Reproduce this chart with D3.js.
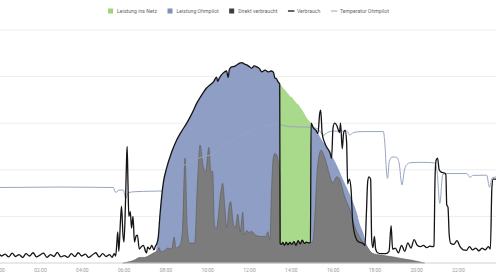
<!DOCTYPE html>
<html><head><meta charset="utf-8">
<script src="https://cdn.jsdelivr.net/npm/d3@7/dist/d3.min.js"></script>
<style>html,body{margin:0;padding:0;background:#fff;overflow:hidden}svg{display:block;font-family:Roboto,"Open Sans",sans-serif}</style>
</head><body>
<svg id="c" width="496" height="279"></svg>
<script>
// ---------- data ----------
const tickHours = [0,2,4,6,8,10,12,14,16,18,20,22];
const legendLabels = ["Leistung ins Netz","Leistung Ohmpilot","Direkt verbraucht","Verbrauch","Temperatur Ohmpilot"];

// Leistung Ohmpilot (blue area top, kW); null = gap
const ohmpilotZeit = [7.55,7.58,7.66,7.74,7.82,7.90,8.06,8.30,8.54,8.75,9.02,9.26,9.50,9.74,9.98,10.13,10.29,10.45,10.50,10.58,10.77,10.93,11.00,11.06,11.17,11.30,11.41,11.55,11.65,11.78,11.89,12.00,12.13,12.24,12.37,12.50,12.61,12.77,12.92,13.05,13.16,13.24,13.32,13.40,13.48,
  13.50,
  14.96,15.08,15.24,15.40,15.64,15.88,16.20,16.51,16.83,17.15,17.31,17.47,17.63,17.74,17.89,17.95];
const ohmpilotWert = [0.20,0.40,0.56,1.03,1.42,1.72,2.04,2.38,2.64,2.81,3.00,3.20,3.43,3.61,3.76,3.82,3.88,3.99,3.90,3.97,4.08,4.12,3.98,4.15,4.21,4.22,4.25,4.29,4.30,4.27,4.25,4.22,4.18,4.23,4.21,4.17,4.10,4.14,4.10,4.12,4.10,3.97,3.95,3.88,3.84,
  null,
  3.00,2.90,2.83,2.70,2.53,2.36,2.10,1.78,1.46,1.09,0.82,0.64,0.39,0.28,0.19,0.00];

// Leistung ins Netz (green area top, kW)
const netzZeit = [13.47,13.56,13.64,13.72,13.80,13.88,13.96,14.04,14.12,14.20,14.28,14.36,14.44,14.52,14.60,14.68,14.76,14.84,14.92,14.97];
const netzWert = [3.84,3.80,3.75,3.72,3.67,3.63,3.58,3.56,3.52,3.47,3.43,3.40,3.35,3.30,3.24,3.18,3.11,3.07,3.03,3.00];

// Direkt verbraucht (grey area, kW)
const direktZeit = [5.97,6.20,6.50,6.78,7.00,7.30,7.55,7.62,7.70,7.78,8.00,8.10,8.30,8.42,8.50,8.70,8.82,8.94,9.05,9.15,9.40,9.53,9.66,9.80,9.92,10.08,10.18,10.26,10.35,10.45,10.63,10.74,10.85,10.93,11.06,11.12,11.24,11.35,11.46,11.58,11.64,11.70,11.78,11.90,12.00,12.12,12.30,12.55,12.80,12.90,13.00,13.08,13.16,13.24,13.35,13.42,13.47,
  13.49,13.55,13.62,13.70,13.78,13.86,13.95,14.05,14.15,14.25,14.35,14.45,14.55,14.65,14.75,14.85,14.94,
  15.05,15.15,15.25,15.35,15.45,15.55,15.70,15.85,16.00,16.20,16.35,16.58,16.83,17.07,17.31,17.63,17.90,18.30,18.90,19.50,19.80,20.10,20.40];
const direktWert = [0.00,0.02,0.06,0.12,0.12,0.18,0.24,0.25,0.33,0.24,0.28,0.32,0.30,0.56,0.32,0.39,0.71,2.25,0.71,0.43,0.43,1.70,2.53,2.10,1.95,2.48,1.95,1.97,0.80,0.75,1.45,1.71,1.16,0.75,1.25,1.32,0.88,0.75,1.05,0.67,0.88,1.09,0.60,0.70,0.65,0.68,0.60,0.57,0.57,0.67,0.50,1.60,2.25,2.35,2.30,2.10,1.90,
  0.42,0.40,0.44,0.38,0.45,0.39,0.44,0.40,0.46,0.38,0.48,0.41,0.49,0.42,0.45,0.43,0.44,
  0.45,1.00,1.90,2.30,2.42,2.35,2.15,1.90,1.72,1.85,1.78,1.42,1.14,0.77,0.54,0.36,0.21,0.17,0.13,0.08,0.06,0.03,0.00];

// Verbrauch (black line, kW)
const verbrauchZeit = [0.00,0.17,0.33,0.50,0.67,0.83,1.00,1.17,1.33,1.50,1.67,1.83,2.00,2.17,2.33,2.50,2.67,2.83,3.00,3.17,3.33,3.50,3.67,3.83,4.00,4.17,4.33,4.50,4.67,4.83,5.00,5.17,5.33,5.45,
  5.55,5.62,5.68,5.72,5.77,5.85,5.90,5.97,6.02,6.09,6.14,6.17,6.21,6.25,6.32,6.38,6.45,6.52,6.60,6.66,6.75,6.85,6.95,7.05,7.10,7.15,7.25,7.35,7.45,7.53,
  7.58,7.66,7.74,7.82,7.90,8.06,8.30,8.54,8.75,9.02,9.26,9.50,9.74,9.98,10.13,10.29,10.45,10.50,10.58,10.77,10.93,11.00,11.06,11.17,11.30,11.41,11.55,11.65,11.78,11.89,12.00,12.13,12.24,12.37,12.50,12.61,12.77,12.92,13.05,13.16,13.24,13.32,13.40,13.47,
  13.49,13.55,13.62,13.70,13.78,13.86,13.95,14.05,14.15,14.25,14.35,14.45,14.55,14.65,14.75,14.85,14.94,
  14.97,15.08,15.20,15.30,15.38,15.43,15.50,15.62,15.70,15.88,15.95,16.02,16.10,16.20,16.28,16.33,16.38,16.46,16.53,16.60,16.67,16.72,16.80,16.88,16.96,17.10,17.25,17.45,17.55,17.62,17.68,17.74,17.82,17.87,17.93,18.00,18.06,18.15,18.35,18.55,18.70,18.80,18.87,19.00,19.15,19.30,19.45,19.60,19.75,19.90,20.05,20.20,20.35,20.50,20.65,20.78,20.85,
  20.90,20.95,21.02,21.10,21.20,21.35,21.42,21.46,21.52,21.58,21.65,21.80,21.95,22.10,22.25,22.40,22.55,22.70,22.85,23.00,23.15,23.30,23.45,23.55,23.62,23.68,23.80,24.00];
const verbrauchWert = [0.22,0.15,0.19,0.13,0.21,0.14,0.18,0.12,0.20,0.15,0.22,0.13,0.17,0.21,0.12,0.18,0.14,0.23,0.13,0.16,0.12,0.20,0.14,0.22,0.15,0.19,0.12,0.17,0.22,0.13,0.20,0.14,0.18,0.12,
  0.20,0.15,0.45,0.67,0.25,0.90,1.22,0.60,0.45,1.30,2.20,2.50,1.70,1.00,1.10,0.75,1.00,0.45,0.58,0.60,0.30,0.35,0.38,0.25,0.22,0.34,0.30,0.38,0.28,0.37,
  0.40,0.56,1.03,1.42,1.72,2.04,2.38,2.64,2.81,3.00,3.20,3.43,3.61,3.76,3.82,3.88,3.99,3.90,3.97,4.08,4.12,3.98,4.15,4.21,4.22,4.25,4.29,4.30,4.27,4.25,4.22,4.18,4.23,4.21,4.17,4.10,4.14,4.10,4.12,4.10,3.97,3.95,3.88,3.84,
  0.42,0.40,0.44,0.38,0.45,0.39,0.44,0.40,0.46,0.38,0.48,0.41,0.49,0.42,0.45,0.43,0.44,
  3.00,2.90,2.85,2.78,3.20,3.28,2.78,2.58,2.50,2.36,2.25,2.90,3.00,2.95,2.85,2.80,3.00,2.45,2.80,2.85,2.60,1.70,1.80,1.60,0.90,0.55,0.45,0.42,0.38,1.10,1.75,1.85,1.80,0.50,0.33,0.57,0.30,0.22,0.20,0.20,0.25,0.80,0.30,0.32,0.22,0.38,0.25,0.43,0.32,0.50,0.38,0.35,0.38,0.33,0.36,0.35,0.37,
  1.80,2.20,2.25,2.00,1.95,1.93,1.90,1.25,1.20,0.60,0.42,0.40,0.48,0.35,0.28,0.27,0.35,0.28,0.32,0.26,0.32,0.28,0.35,0.30,1.60,1.80,1.80,1.80];

// Temperatur Ohmpilot (°C)
const temperaturZeit = [0.00,1.50,3.00,4.50,5.51,5.59,5.67,5.75,5.99,6.10,6.23,6.55,7.26,7.82,7.93,8.06,8.27,8.54,8.78,9.02,9.32,9.66,9.98,10.29,10.61,10.93,11.25,11.57,11.89,12.21,12.53,12.85,13.16,13.40,13.64,13.96,14.44,15.00,15.30,15.56,15.80,16.03,16.68,16.83,16.99,17.45,18.43,18.51,18.59,18.63,18.71,18.84,19.07,19.18,19.32,19.44,19.56,19.70,20.18,20.85,20.99,21.13,21.27,21.46,22.42,22.57,22.73,23.37,23.51,23.63,23.82,24.00];
const temperaturWert = [32.4,32.5,32.6,32.5,32.4,30.6,30.4,31.3,31.3,27.8,30.2,30.6,30.8,30.9,32.5,34.5,37.0,39.5,41.2,42.6,44.2,45.2,46.0,46.6,49.5,51.5,52.8,54.7,55.8,57.0,58.0,58.8,59.4,59.6,59.0,58.5,58.4,58.2,57.5,54.9,56.2,56.6,56.6,54.9,56.0,56.4,56.4,50.0,38.0,36.3,43.5,45.5,45.3,43.0,33.5,40.0,42.3,43.0,43.2,43.0,40.0,25.5,38.0,38.4,38.4,36.8,37.6,37.7,32.5,36.5,36.9,36.9];

// ---------- chart ----------
const svg = d3.select("#c");
const W = 496, H = 279;
const x = d3.scaleLinear().domain([0,24]).range([-1.8, 499.8]);
const y = d3.scaleLinear().domain([0,5]).range([263, 30]);
const yT = d3.scaleLinear().domain([0,100]).range([263, 30]);

const zip = (t, v) => t.map((h, i) => ({h, v: v[i]}));

// grid
svg.append("g").selectAll("line").data([1,2,3,4,5]).join("line")
  .attr("x1", 0).attr("x2", W)
  .attr("y1", d => y(d)).attr("y2", d => y(d))
  .attr("stroke", "#ededed").attr("stroke-width", 1);

const curve = d3.curveMonotoneX;
const area = d3.area().defined(d => d.v != null).x(d => x(d.h)).y0(y(0)).y1(d => y(d.v)).curve(curve);

svg.append("path").datum(zip(netzZeit, netzWert)).attr("d", area).attr("fill", "#a9da8b");
svg.append("path").datum(zip(ohmpilotZeit, ohmpilotWert)).attr("d", area).attr("fill", "#8e9ec4");
svg.append("path").datum(zip(direktZeit, direktWert)).attr("d", area)
  .attr("fill", "#7c7c7c").attr("stroke", "#5a5a5a").attr("stroke-width", 0.6);

// baseline
svg.append("line").attr("x1", 0).attr("x2", W).attr("y1", y(0)).attr("y2", y(0))
  .attr("stroke", "#d2d2d2").attr("stroke-width", 1);

// temperature
const lineT = d3.line().x(d => x(d.h)).y(d => yT(d.v)).curve(curve);
svg.append("path").datum(zip(temperaturZeit, temperaturWert)).attr("d", lineT)
  .attr("fill", "none").attr("stroke", "#98a5c0").attr("stroke-width", 1);

// consumption
const lineV = d3.line().x(d => x(d.h)).y(d => y(d.v)).curve(curve);
svg.append("path").datum(zip(verbrauchZeit, verbrauchWert)).attr("d", lineV)
  .attr("fill", "none").attr("stroke", "#141414").attr("stroke-width", 1.3).attr("stroke-linejoin", "round");

// x axis
const ax = svg.append("g").attr("transform", `translate(0,${y(0)})`)
  .call(d3.axisBottom(x).tickValues(tickHours).tickSize(0).tickPadding(5)
    .tickFormat(h => String(h).padStart(2, "0") + ":00"));
ax.select(".domain").remove();
ax.selectAll("text").attr("fill", "#9a9a9a").style("font-size", "5px").style("font-family", "Roboto");

// legend
const legendColors = ["#9fd47f", "#7f91b8", "#3e3e3e", "#141414", "#98a5c0"];
const legendTypes = ["rect", "rect", "rect", "line", "line"];
const lg = svg.append("g");
let cx = 0;
legendLabels.forEach((lab, i) => {
  const g = lg.append("g").attr("transform", `translate(${cx},0)`);
  if (legendTypes[i] === "rect") {
    g.append("rect").attr("x", 0).attr("y", 8.5).attr("width", 5).attr("height", 5).attr("fill", legendColors[i]);
  } else {
    g.append("line").attr("x1", 0).attr("x2", 6.5).attr("y1", 11).attr("y2", 11)
      .attr("stroke", legendColors[i]).attr("stroke-width", i === 3 ? 1.3 : 1);
  }
  const t = g.append("text").attr("x", 9).attr("y", 11).attr("dy", "0.35em")
    .attr("fill", "#666").style("font-size", "5.2px").style("font-family", "Roboto").text(lab);
  cx += 9 + t.node().getComputedTextLength() + 10.5;
});
const lw = cx - 10.5;
lg.attr("transform", `translate(${(W - lw) / 2 + 0.5},0)`);
</script>
</body></html>
